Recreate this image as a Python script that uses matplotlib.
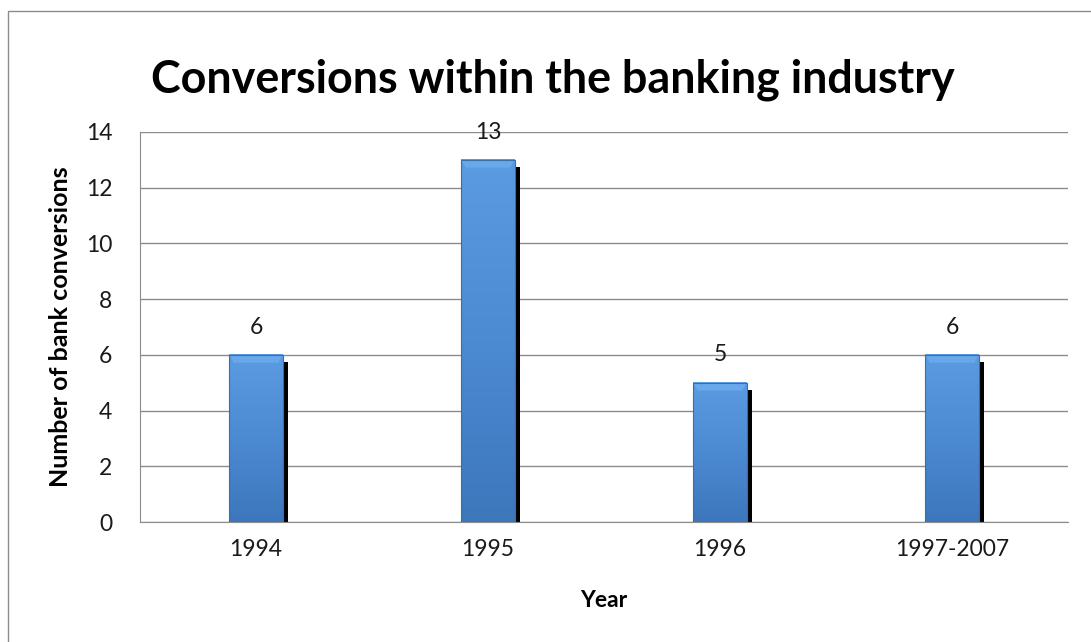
import numpy as np
import matplotlib
matplotlib.use('Agg')
import matplotlib.pyplot as plt
from matplotlib.patches import Rectangle, Polygon
from matplotlib.colors import LinearSegmentedColormap

# Data
years = ['1994', '1995', '1996', '1997-2007']
conversions = [6, 13, 5, 6]
y_ticks = [0, 2, 4, 6, 8, 10, 12, 14]

plt.rcParams['font.family'] = ['Lato', 'DejaVu Sans']

fig = plt.figure(figsize=(10.91, 6.42), dpi=100)
ax = fig.add_axes([0.1283, 0.1869, 0.8506, 0.6075])

# Outer chart border (runs off the right and bottom edges)
fig.patches.append(Rectangle((8 / 1091, -0.1), 1.2, 1.1 - 11 / 642,
                             transform=fig.transFigure, fill=False,
                             edgecolor='#8c8c8c', linewidth=1.0))

x = np.arange(len(years))
width = 0.23
blues = LinearSegmentedColormap.from_list('bar', ['#3d77bc', '#4c8ad2', '#5b9be2'])
grad = np.linspace(0, 1, 100).reshape(-1, 1)

# Shadow bars: offset right and slightly down
dx = 0.022
dy = 0.25
ax.bar(x + dx, [v - dy for v in conversions], width=width, color='black', zorder=2)

for xi, v in zip(x, conversions):
    left, right = xi - width / 2, xi + width / 2
    ax.imshow(grad, cmap=blues, origin='lower', aspect='auto',
              extent=(left, right, 0, v), zorder=3, interpolation='bilinear')
    # top bevel
    bev = 0.28
    ax.add_patch(Polygon([(left, v), (right, v), (right - 0.02, v - bev), (left + 0.02, v - bev)],
                         closed=True, facecolor='#6aa8ec', edgecolor='none', zorder=4))
    ax.add_patch(Rectangle((left, 0), width, v, fill=False, edgecolor='#3a6ea8',
                           linewidth=0.8, zorder=5))
    ax.text(xi, v + 0.62, str(v), ha='center', va='bottom', fontsize=16.5, color='#1a1a1a')

ax.set_xlim(-0.5, len(years) - 0.5)
ax.set_ylim(0, 14)
ax.set_yticks(y_ticks)
ax.set_xticks(x)
ax.set_xticklabels(years)
ax.tick_params(axis='both', length=0, labelsize=16.5, colors='#1a1a1a')
ax.tick_params(axis='y', pad=20)
ax.tick_params(axis='x', pad=12)
ax.grid(axis='y', color='#8c8c8c', linewidth=1.0, zorder=0)
ax.set_axisbelow(True)
for s in ['top', 'right']:
    ax.spines[s].set_visible(False)
for s in ['left', 'bottom']:
    ax.spines[s].set_color('#8c8c8c')

ax.set_ylabel('Number of bank conversions', fontsize=18, fontweight='bold', labelpad=10)
ax.set_xlabel('Year', fontsize=16.5, fontweight='bold', labelpad=22)

fig.text(0.507, 1 - 80 / 642, 'Conversions within the banking industry',
         ha='center', va='center', fontsize=32.3, fontweight='bold')

fig.savefig('out.png', dpi=100)
